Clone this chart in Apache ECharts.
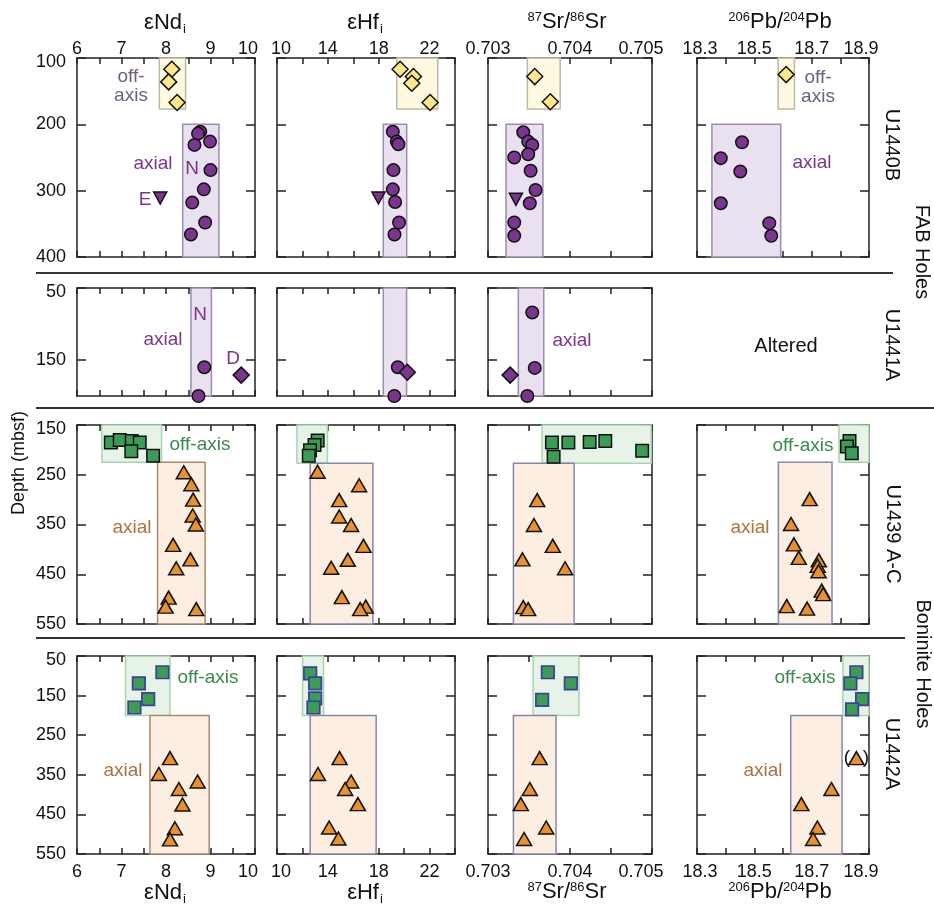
<!DOCTYPE html>
<html><head><meta charset="utf-8">
<script src="https://cdn.jsdelivr.net/npm/echarts@6/dist/echarts.min.js"></script>
<style>html,body{margin:0;padding:0;background:#fff}#c{width:934px;height:911px}</style>
</head><body><div id="c"></div>
<script>
// ---------- axis definitions ----------
const ndTicks = [6, 6.5, 7, 7.5, 8, 8.5, 9, 9.5, 10];
const ndLabels = [6, 7, 8, 9, 10];
const hfTicks = [10, 12, 14, 16, 18, 20, 22, 24];
const hfLabels = [10, 14, 18, 22];
const srTicks = [0.703, 0.7035, 0.704, 0.7045, 0.705];
const srLabels = [0.703, 0.704, 0.705];
const pbTicks = [18.3, 18.4, 18.5, 18.6, 18.7, 18.8, 18.9];
const pbLabels = [18.3, 18.5, 18.7, 18.9];
const depthU1440B = [100, 200, 300, 400];
const depthU1441A = [50, 150];
const depthU1439 = [150, 250, 350, 450, 550];
const depthU1442A = [50, 150, 250, 350, 450, 550];

// ---------- U1440B (FAB) ----------
const u1440b_nd_off = [[8.13,117],[8.06,136],[8.25,167]];
const u1440b_nd_ax = [[8.77,211],[8.72,214],[8.99,226],[8.64,231],[9.00,269],[8.85,298],[8.59,318],[8.88,348],[8.56,366]];
const u1440b_nd_E = [[7.87,311]];
const u1440b_hf_off = [[19.68,117],[20.73,128],[20.60,138],[22.04,167]];
const u1440b_hf_ax = [[19.11,211],[19.42,226],[19.55,230],[19.16,269],[19.11,298],[19.29,317],[19.60,348],[19.24,366]];
const u1440b_hf_E = [[17.98,311]];
const u1440b_sr_off = [[0.70357,128],[0.70376,166]];
const u1440b_sr_ax = [[0.70343,212],[0.70349,226],[0.70354,231],[0.70349,245],[0.70332,250],[0.70352,270],[0.70358,299],[0.70351,319],[0.70332,348],[0.70332,368]];
const u1440b_sr_E = [[0.70334,313]];
const u1440b_pb_off = [[18.611,125]];
const u1440b_pb_ax = [[18.457,227],[18.383,251],[18.451,271],[18.383,319],[18.552,349],[18.559,368]];
// envelopes [xMin, xMax, depthTop, depthBottom]
const u1440b_nd_offBox = [7.85, 8.44, 100, 177];
const u1440b_nd_axBox = [8.375, 9.19, 200, 400];
const u1440b_hf_offBox = [19.42, 22.64, 100, 177];
const u1440b_hf_axBox = [18.36, 20.2, 200, 400];
const u1440b_sr_offBox = [0.70348, 0.70388, 100, 177];
const u1440b_sr_axBox = [0.70322, 0.70367, 200, 400];
const u1440b_pb_offBox = [18.583, 18.640, 100, 177];
const u1440b_pb_axBox = [18.352, 18.592, 200, 400];

// ---------- U1441A (FAB) ----------
const u1441a_nd_ax = [[8.86,160],[8.73,200]];
const u1441a_nd_D = [[9.69,171]];
const u1441a_hf_ax = [[19.50,160],[19.23,200]];
const u1441a_hf_D = [[20.25,167]];
const u1441a_sr_ax = [[0.70354,84],[0.70357,161],[0.70348,200]];
const u1441a_sr_D = [[0.70327,171]];
const u1441a_nd_axBox = [8.56, 9.02, 50, 200];
const u1441a_hf_axBox = [18.36, 20.19, 50, 200];
const u1441a_sr_axBox = [0.70337, 0.70368, 50, 200];

// ---------- U1439 A-C (Boninite) ----------
const u1439_nd_off = [[6.76,185],[6.96,180],[7.23,182],[7.41,185],[7.22,203],[7.71,212]];
const u1439_nd_ax = [[8.40,245],[8.57,269],[8.61,300],[8.60,332],[8.67,350],[8.16,391],[8.55,420],[8.23,438],[8.06,497],[7.99,515],[8.68,520]];
const u1439_hf_off = [[13.2,181],[12.95,190],[12.6,201],[12.5,212]];
const u1439_hf_ax = [[13.19,244],[16.46,271],[14.89,301],[14.89,334],[15.83,351],[16.80,393],[15.57,421],[14.26,437],[15.10,496],[16.98,515],[16.54,520]];
const u1439_sr_off = [[0.70378,185],[0.70398,185],[0.70424,184],[0.70443,182],[0.70488,202],[0.70380,214]];
const u1439_sr_ax = [[0.70360,301],[0.70356,351],[0.70379,393],[0.70342,420],[0.70394,438],[0.70343,516],[0.70349,520]];
const u1439_pb_off = [[18.832,182],[18.823,193],[18.840,207]];
const u1439_pb_ax = [[18.693,299],[18.628,349],[18.638,390],[18.655,417],[18.725,422],[18.721,433],[18.724,444],[18.735,483],[18.740,490],[18.613,514],[18.684,519]];
const u1439_nd_offBox = [6.56, 7.90, 150, 225];
const u1439_nd_axBox = [7.81, 8.88, 225, 550];
const u1439_hf_offBox = [11.57, 13.97, 150, 227];
const u1439_hf_axBox = [12.61, 17.54, 227, 550];
const u1439_sr_offBox = [0.70366, 0.70499, 150, 227];
const u1439_sr_axBox = [0.70331, 0.70405, 227, 550];
const u1439_pb_offBox = [18.795, 18.9, 150, 225];
const u1439_pb_axBox = [18.584, 18.771, 225, 550];

// ---------- U1442A (Boninite) ----------
const u1442a_nd_off = [[7.92,91],[7.39,119],[7.60,159],[7.29,180]];
const u1442a_nd_ax = [[8.09,308],[7.84,348],[8.71,367],[8.29,386],[8.37,425],[8.20,485],[8.09,513]];
const u1442a_hf_off = [[12.61,94],[13.0,119],[13.0,157],[12.87,180]];
const u1442a_hf_ax = [[14.92,308],[13.22,348],[15.83,367],[15.36,386],[16.36,424],[14.10,483],[14.83,511]];
const u1442a_sr_off = [[0.70373,91],[0.70401,119],[0.70366,161]];
const u1442a_sr_ax = [[0.70363,308],[0.70351,386],[0.70340,424],[0.70371,483],[0.70344,512]];
const u1442a_pb_off = [[18.856,91],[18.835,119],[18.876,159],[18.841,185]];
const u1442a_pb_ax = [[18.769,386],[18.664,424],[18.720,483],[18.705,512]];
const u1442a_pb_bracketed = [[18.856,308]];
const u1442a_nd_offBox = [7.09, 8.09, 50, 200];
const u1442a_nd_axBox = [7.64, 8.97, 200, 550];
const u1442a_hf_offBox = [12.01, 13.66, 50, 200];
const u1442a_hf_axBox = [12.61, 17.80, 200, 550];
const u1442a_sr_offBox = [0.70355, 0.70411, 50, 200];
const u1442a_sr_axBox = [0.70331, 0.70383, 200, 550];
const u1442a_pb_offBox = [18.809, 18.9, 50, 200];
const u1442a_pb_axBox = [18.627, 18.806, 200, 550];

// ---------- layout / style ----------
const F = "Arial, 'Liberation Sans', Helvetica, sans-serif";
const COLS = [{left:77,width:178},{left:277,width:178},{left:488,width:164},{left:697,width:172}];
const ROWS = [{top:58,height:199},{top:288,height:108},{top:425,height:199},{top:656,height:198}];
const XSPEC = [
  {min:6,max:10,ticks:ndTicks,labels:ndLabels,shift:{'10':-7}},
  {min:10,max:24,ticks:hfTicks,labels:hfLabels,shift:{'10':4}},
  {min:0.703,max:0.705,ticks:srTicks,labels:srLabels,shift:{'0.705':-11}},
  {min:18.3,max:18.9,ticks:pbTicks,labels:pbLabels,shift:{'18.3':3,'18.9':-8}}
];
const YSPEC = [
  {min:100,max:400,ticks:depthU1440B},
  {min:50,max:200,ticks:depthU1441A},
  {min:150,max:550,ticks:depthU1439},
  {min:50,max:550,ticks:depthU1442A}
];
const BOX = {
  Y:{fill:'#fefae2',stroke:'#bdb9a3'},
  P:{fill:'#e9e1ef',stroke:'#9f8bb0'},
  G:{fill:'#e7f2e8',stroke:'#a6d5ac'},
  O:{fill:'#fcefe2',stroke:'#8886ad'},
  OB:{fill:'#fcefe2',stroke:'#a88a6c'}
};
const MK = {
  dia:{symbol:'diamond',size:[16,16],color:'#fce888',border:'#111',bw:1.5},
  cir:{symbol:'circle',size:12.5,color:'#7a368e',border:'#111',bw:1.5},
  E:{symbol:'triangle',size:[13,12],rotate:180,color:'#7a368e',border:'#111',bw:1.5},
  D:{symbol:'diamond',size:[16,16],color:'#7a368e',border:'#111',bw:1.5},
  sqK:{symbol:'rect',size:12.5,color:'#3c9c55',border:'#111',bw:1.5},
  sqB:{symbol:'rect',size:12.5,color:'#3c9c55',border:'#3d3f9a',bw:1.7},
  tri:{symbol:'triangle',size:[15,13],color:'#e8912e',border:'#111',bw:1.5}
};

const panels = [
  {r:0,c:0,boxes:[[u1440b_nd_offBox,'Y'],[u1440b_nd_axBox,'P']],pts:[[u1440b_nd_off,'dia'],[u1440b_nd_ax,'cir'],[u1440b_nd_E,'E']]},
  {r:0,c:1,boxes:[[u1440b_hf_offBox,'Y'],[u1440b_hf_axBox,'P']],pts:[[u1440b_hf_off,'dia'],[u1440b_hf_ax,'cir'],[u1440b_hf_E,'E']]},
  {r:0,c:2,boxes:[[u1440b_sr_offBox,'Y'],[u1440b_sr_axBox,'P']],pts:[[u1440b_sr_off,'dia'],[u1440b_sr_ax,'cir'],[u1440b_sr_E,'E']]},
  {r:0,c:3,boxes:[[u1440b_pb_offBox,'Y'],[u1440b_pb_axBox,'P']],pts:[[u1440b_pb_off,'dia'],[u1440b_pb_ax,'cir']]},
  {r:1,c:0,boxes:[[u1441a_nd_axBox,'P']],pts:[[u1441a_nd_ax,'cir'],[u1441a_nd_D,'D']]},
  {r:1,c:1,boxes:[[u1441a_hf_axBox,'P']],pts:[[u1441a_hf_ax,'cir'],[u1441a_hf_D,'D']]},
  {r:1,c:2,boxes:[[u1441a_sr_axBox,'P']],pts:[[u1441a_sr_ax,'cir'],[u1441a_sr_D,'D']]},
  {r:2,c:0,boxes:[[u1439_nd_offBox,'G'],[u1439_nd_axBox,'OB']],pts:[[u1439_nd_off,'sqK'],[u1439_nd_ax,'tri']]},
  {r:2,c:1,boxes:[[u1439_hf_offBox,'G'],[u1439_hf_axBox,'O']],pts:[[u1439_hf_off,'sqK'],[u1439_hf_ax,'tri']]},
  {r:2,c:2,boxes:[[u1439_sr_offBox,'G'],[u1439_sr_axBox,'O']],pts:[[u1439_sr_off,'sqK'],[u1439_sr_ax,'tri']]},
  {r:2,c:3,boxes:[[u1439_pb_offBox,'G'],[u1439_pb_axBox,'O']],pts:[[u1439_pb_off,'sqK'],[u1439_pb_ax,'tri']]},
  {r:3,c:0,boxes:[[u1442a_nd_offBox,'G'],[u1442a_nd_axBox,'OB']],pts:[[u1442a_nd_off,'sqB'],[u1442a_nd_ax,'tri']]},
  {r:3,c:1,boxes:[[u1442a_hf_offBox,'G'],[u1442a_hf_axBox,'O']],pts:[[u1442a_hf_off,'sqB'],[u1442a_hf_ax,'tri']]},
  {r:3,c:2,boxes:[[u1442a_sr_offBox,'G'],[u1442a_sr_axBox,'O']],pts:[[u1442a_sr_off,'sqB'],[u1442a_sr_ax,'tri']]},
  {r:3,c:3,boxes:[[u1442a_pb_offBox,'G'],[u1442a_pb_axBox,'O']],pts:[[u1442a_pb_off,'sqB'],[u1442a_pb_ax,'tri'],[u1442a_pb_bracketed,'tri']]}
];

const LINE = {color:'#222',width:1.5};
const LBL = {fontSize:18,color:'#111',fontFamily:F};
function shiftRich(){
  const r={};
  for(let s=1;s<=14;s++){
    r['L'+s]=Object.assign({padding:[0,0,0,2*s]},LBL);
    r['R'+s]=Object.assign({padding:[0,2*s,0,0]},LBL);
  }
  r.T=Object.assign({padding:[8,0,0,0]},LBL);
  return r;
}
const XRICH = shiftRich();
function mkX(gi,pos,s,show){
  return {type:'value',gridIndex:gi,position:pos,min:s.min,max:s.max,
    axisLine:{show:true,onZero:false,lineStyle:LINE},
    axisTick:{show:true,inside:true,length:6,customValues:s.ticks,lineStyle:LINE},
    axisLabel:Object.assign({show:show,customValues:s.labels,margin:pos==='top'?0:9,rich:XRICH,
      formatter:v=>{const k=s.shift[String(v)]; if(!k) return String(v); return '{'+(k>0?'L':'R')+Math.abs(k)+'|'+v+'}';}},LBL),
    splitLine:{show:false}};
}
function mkY(gi,pos,s,show){
  return {type:'value',gridIndex:gi,position:pos,min:s.min,max:s.max,inverse:true,
    axisLine:{show:true,onZero:false,lineStyle:LINE},
    axisTick:{show:true,inside:true,length:9,customValues:s.ticks,lineStyle:LINE},
    axisLabel:Object.assign({show:show,customValues:s.ticks,margin:11,rich:XRICH,
      formatter:v=>(v===s.min?'{T|'+v+'}':String(v))},LBL),
    splitLine:{show:false}};
}

const grid=[], xAxis=[], yAxis=[], series=[];
panels.forEach((p,i)=>{
  grid.push({left:COLS[p.c].left,top:ROWS[p.r].top,width:COLS[p.c].width,height:ROWS[p.r].height,outerBoundsMode:'none',containLabel:false});
  xAxis.push(mkX(i,'bottom',XSPEC[p.c],p.r===3));
  xAxis.push(mkX(i,'top',XSPEC[p.c],p.r===0));
  yAxis.push(mkY(i,'left',YSPEC[p.r],p.c===0));
  yAxis.push(mkY(i,'right',YSPEC[p.r],false));
  p.boxes.forEach(([b,k])=>{
    const st=BOX[k];
    series.push({type:'custom',xAxisIndex:2*i,yAxisIndex:2*i,data:[b],encode:{x:[0,1],y:[2,3]},z:1,silent:true,animation:false,clip:false,
      renderItem:(params,api)=>{
        const p1=api.coord([api.value(0),api.value(2)]);
        const p2=api.coord([api.value(1),api.value(3)]);
        return {type:'rect',shape:{x:Math.min(p1[0],p2[0]),y:Math.min(p1[1],p2[1]),width:Math.abs(p2[0]-p1[0]),height:Math.abs(p2[1]-p1[1])},
          style:{fill:st.fill,stroke:st.stroke,lineWidth:1.5}};
      }});
  });
  p.pts.forEach(([d,k])=>{
    const m=MK[k];
    series.push({type:'scatter',xAxisIndex:2*i,yAxisIndex:2*i,data:d,symbol:m.symbol,symbolSize:m.size,symbolRotate:m.rotate||0,
      itemStyle:{color:m.color,borderColor:m.border,borderWidth:m.bw,opacity:1},z:3,silent:true,animation:false,clip:false});
  });
});

// ---------- text / decorations ----------
function T(x,y,text,o){
  o=o||{};
  return {type:'text',x:x,y:y,rotation:o.rot||0,silent:true,z:20,
    style:{text:text,fill:o.color||'#111',font:(o.size||18)+'px '+F,align:o.align||'center',verticalAlign:'middle',rich:o.rich}};
}
const RICH = {
  m:{fontSize:22,fontFamily:F,fill:'#111',lineHeight:22,verticalAlign:'top'},
  p:{fontSize:13,fontFamily:F,fill:'#111',lineHeight:13,verticalAlign:'top'},
  s:{fontSize:13,fontFamily:F,fill:'#111',lineHeight:13,verticalAlign:'top',padding:[11,0,0,1]}
};
const titles = ['{m|εNd}{s|i}','{m|εHf}{s|i}','{p|87}{m|Sr/}{p|86}{m|Sr}','{p|206}{m|Pb/}{p|204}{m|Pb}'];
const titleX = [165,365,567,780];
const graphic = [];
titles.forEach((t,i)=>{
  graphic.push(T(titleX[i],i<2?23:22,t,{rich:RICH}));
  graphic.push(T(titleX[i],i<2?893:892,t,{rich:RICH}));
});
const PUR='#7a368e', PGRAY='#6f6080', GRN='#3a8a4e', BRN='#a87440';
graphic.push(
  T(131,77,'off-',{color:PGRAY,size:19}), T(131,96,'axis',{color:PGRAY,size:19}),
  T(153,164,'axial',{color:PUR,size:19}), T(192,169,'N',{color:PUR,size:19}), T(145,200,'E',{color:PUR,size:19}),
  T(818,78,'off-',{color:PGRAY,size:19}), T(818,97,'axis',{color:PGRAY,size:19}), T(812,163,'axial',{color:PUR,size:19}),
  T(163,340,'axial',{color:PUR,size:19}), T(200,315,'N',{color:PUR,size:19}), T(233,359,'D',{color:PUR,size:19}),
  T(572,341,'axial',{color:PUR,size:19}), T(786,346,'Altered',{size:20}),
  T(200,445,'off-axis',{color:GRN,size:19}), T(132,528,'axial',{color:BRN,size:19}),
  T(803,446,'off-axis',{color:GRN,size:19}), T(750,528,'axial',{color:BRN,size:19}),
  T(208,678,'off-axis',{color:GRN,size:19}), T(123,771,'axial',{color:BRN,size:19}),
  T(805,678,'off-axis',{color:GRN,size:19}), T(763,771,'axial',{color:BRN,size:19}),
  T(847,758,'(',{size:19}), T(866,758,')',{size:19}),
  T(19,463,'Depth (mbsf)',{rot:Math.PI/2}),
  T(892,145,'U1440B',{rot:-Math.PI/2,size:20}),
  T(892,345,'U1441A',{rot:-Math.PI/2,size:20}),
  T(893,534,'U1439 A-C',{rot:-Math.PI/2,size:20}),
  T(892,754,'U1442A',{rot:-Math.PI/2,size:20}),
  T(922,252,'FAB Holes',{rot:-Math.PI/2,size:20}),
  T(923,664,'Boninite Holes',{rot:-Math.PI/2,size:20}),
  {type:'line',silent:true,z:20,shape:{x1:36,y1:273,x2:893,y2:273},style:{stroke:'#333',lineWidth:2}},
  {type:'line',silent:true,z:20,shape:{x1:36,y1:408,x2:934,y2:408},style:{stroke:'#333',lineWidth:2}},
  {type:'line',silent:true,z:20,shape:{x1:36,y1:638,x2:905,y2:638},style:{stroke:'#333',lineWidth:2}}
);

const chart = echarts.init(document.getElementById('c'),null,{renderer:'canvas'});
chart.setOption({animation:false,backgroundColor:'#fff',grid,xAxis,yAxis,series,graphic});
</script></body></html>
